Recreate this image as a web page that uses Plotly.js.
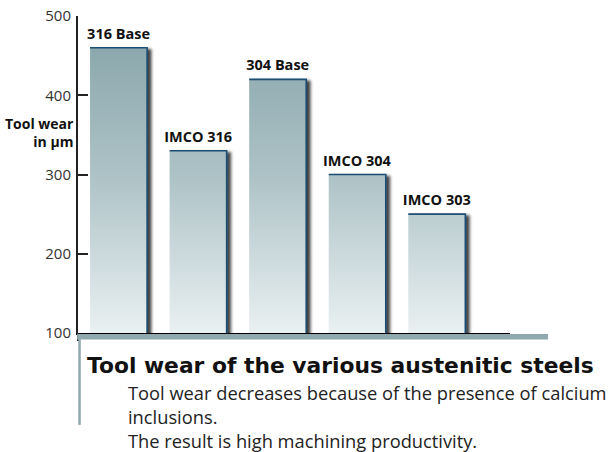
<!DOCTYPE html>
<html><head><meta charset="utf-8">
<script src="https://cdn.plot.ly/plotly-3.0.1.min.js"></script>
<style>html,body{margin:0;padding:0;background:#fff;}</style>
</head><body><div id="chart" style="width:612px;height:452px;"></div>
<script>
const categories = ["316 Base", "IMCO 316", "304 Base", "IMCO 304", "IMCO 303"];
const toolWear = [460, 330, 420, 300, 250];
const yTicks = [100, 200, 300, 400, 500];
const yAxisTitle = "Tool wear<br>in µm";
const chartTitle = "Tool wear of the various austenitic steels";
const noteLines = [
  "Tool wear decreases because of the presence of calcium",
  "inclusions.",
  "The result is high machining productivity."
];

const FONT = "Open Sans, Noto Sans, sans-serif";
const TFONT = "DejaVu Sans, Open Sans, sans-serif";
const BAND = '#8fa9ae';
const M = {l: 78, r: 102, t: 16, b: 119};
const PH = 452 - M.t - M.b;

const data = [{
  type: 'bar', x: categories, y: toolWear,
  text: categories, textposition: 'outside', texttemplate: '%{text}',
  constraintext: 'none', cliponaxis: true,
  textfont: {family: FONT, size: 14.5, color: '#111', weight: 'bold'},
  marker: {color: '#b4c7cb', line: {width: 0}},
  width: 0.717, hoverinfo: 'none', showlegend: false
}];

const noteY = [-0.187, -0.263, -0.339];
const annotations = [
  {xref: 'paper', yref: 'paper', x: -0.0046, y: 0.632, xanchor: 'right', yanchor: 'middle',
   align: 'right', showarrow: false, text: yAxisTitle,
   font: {family: FONT, size: 14, color: '#111', weight: 'bold'}},
  {xref: 'paper', yref: 'paper', x: 0.0165, y: -0.101, xanchor: 'left', yanchor: 'middle',
   align: 'left', showarrow: false, text: chartTitle,
   font: {family: TFONT, size: 21.8, color: '#111', weight: 'bold'}}
].concat(noteLines.map((t, i) => ({
  xref: 'paper', yref: 'paper', x: 0.111, y: noteY[i], xanchor: 'left', yanchor: 'middle',
  align: 'left', showarrow: false, text: t,
  font: {family: FONT, size: 18.3, color: '#222'}
})));

const layout = {
  width: 612, height: 452, margin: M,
  paper_bgcolor: '#fff', plot_bgcolor: '#fff',
  font: {family: FONT},
  xaxis: {range: [-0.51, 4.92], showticklabels: false, ticks: '', showgrid: false, zeroline: false,
          showline: true, linecolor: '#000', linewidth: 2, layer: 'below traces', fixedrange: true},
  yaxis: {range: [100, 500], tickvals: yTicks, ticks: 'inside', ticklen: 10, tickwidth: 2, tickcolor: '#222',
          showline: true, linecolor: '#222', linewidth: 2, showgrid: false, zeroline: false,
          ticklabelstandoff: 2,
          tickfont: {family: FONT, size: 15, color: '#333'}, fixedrange: true},
  shapes: [
    {type: 'line', xref: 'paper', yref: 'paper', x0: 0, x1: 0, y0: 0, y1: -0.025, line: {color: '#222', width: 2}, layer: 'above'},
    {type: 'rect', xref: 'paper', yref: 'paper', ysizemode: 'pixel', yanchor: 0, y0: -1, y1: -6.5,
     x0: -0.002, x1: 1.088, fillcolor: BAND, line: {width: 0}, layer: 'above'},
    {type: 'line', xref: 'paper', yref: 'paper', x0: 0.0035, x1: 0.0035, y0: -0.006, y1: -0.29,
     line: {color: BAND, width: 2.5}, layer: 'above'}
  ],
  annotations: annotations
};

Plotly.newPlot('chart', data, layout, {staticPlot: true, displayModeBar: false}).then(gd => {
  const ns = 'http://www.w3.org/2000/svg';
  const svg = gd.querySelector('svg.main-svg');
  let defs = svg.querySelector('defs');
  if (!defs) { defs = document.createElementNS(ns, 'defs'); svg.insertBefore(defs, svg.firstChild); }
  const grad = document.createElementNS(ns, 'linearGradient');
  grad.setAttribute('id', 'barGrad');
  grad.setAttribute('gradientUnits', 'userSpaceOnUse');
  grad.setAttribute('x1', 0); grad.setAttribute('x2', 0);
  grad.setAttribute('y1', 0); grad.setAttribute('y2', PH);
  [[0, '#84a2a8'], [0.5, '#adc2c6'], [1, '#e9f0f1']].forEach(([o, c]) => {
    const s = document.createElementNS(ns, 'stop');
    s.setAttribute('offset', o); s.setAttribute('stop-color', c); grad.appendChild(s);
  });
  defs.appendChild(grad);
  const filt = document.createElementNS(ns, 'filter');
  filt.setAttribute('id', 'barShadow');
  filt.setAttribute('x', '-10%'); filt.setAttribute('y', '-10%');
  filt.setAttribute('width', '130%'); filt.setAttribute('height', '130%');
  const ds = document.createElementNS(ns, 'feDropShadow');
  ds.setAttribute('dx', 3.5); ds.setAttribute('dy', 2); ds.setAttribute('stdDeviation', 1.6);
  ds.setAttribute('flood-color', '#000'); ds.setAttribute('flood-opacity', 0.75);
  filt.appendChild(ds);
  defs.appendChild(filt);
  gd.querySelectorAll('.bars .point path').forEach(p => {
    const bb = p.getBBox();
    const w = bb.width, h = bb.height;
    p.style.fill = 'url(#barGrad)';
    p.style.fillOpacity = 1;
    p.style.stroke = '#1d4d72';
    p.style.strokeWidth = '1.6px';
    p.style.strokeOpacity = 1;
    p.style.strokeDasharray = `0 ${h} ${w + h} ${w}`;
    p.setAttribute('filter', 'url(#barShadow)');
  });
  gd.querySelectorAll('.bars .point text').forEach(t => {
    const tr = t.getAttribute('transform') || '';
    t.setAttribute('transform', 'translate(0,-2) ' + tr);
  });
});
</script>
</body></html>
